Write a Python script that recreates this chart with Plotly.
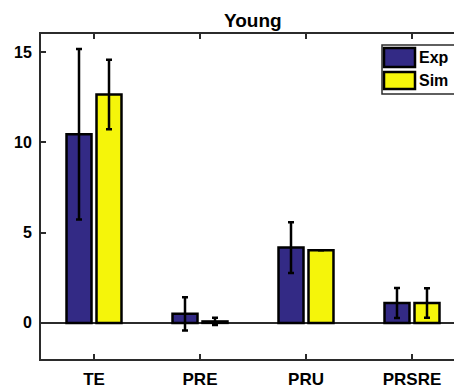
import plotly.graph_objects as go

# Measurements per condition
categories = ["TE", "PRE", "PRU", "PRSRE"]
exp_values = [10.45, 0.5, 4.17, 1.1]
exp_errors = [4.72, 0.92, 1.4, 0.83]
sim_values = [12.65, 0.08, 4.03, 1.1]
sim_errors = [1.93, 0.2, 0.0, 0.82]
y_ticks = [0, 5, 10, 15]

EXP_COLOR = "#332a85"
SIM_COLOR = "#f5f50a"
AXIS_COLOR = "#2b2b2b"
FONT = "Liberation Sans"

W, H = 454, 388
L, R, T, B = 41, 0, 34, 29
plot_w = W - L - R
plot_h = H - T - B

xpos = list(range(1, len(categories) + 1))

fig = go.Figure()
for name, vals, errs, color in [
    ("Exp", exp_values, exp_errors, EXP_COLOR),
    ("Sim", sim_values, sim_errors, SIM_COLOR),
]:
    fig.add_trace(go.Bar(
        x=xpos, y=vals, name=name,
        marker=dict(color=color, line=dict(color="black", width=2.5)),
        error_y=dict(type="data", array=errs, visible=True,
                     color="black", thickness=2.5, width=3),
        showlegend=False,
    ))


def px_x(p):
    return (p - L) / plot_w


def px_y(p):
    return (H - B - p) / plot_h


# Legend box drawn with shapes so the swatches are wide patches;
# the box runs off the right edge of the figure.
bx0, bx1, by0, by1 = px_x(382), 1.5, px_y(94), px_y(45)
shapes = [
    dict(type="rect", xref="paper", yref="paper",
         x0=bx0, x1=bx1, y0=by0, y1=by1,
         line=dict(width=0), fillcolor="white", layer="above"),
    dict(type="path", xref="paper", yref="paper",
         path=f"M {bx1},{by1} L {bx0},{by1} L {bx0},{by0} L {bx1},{by0}",
         line=dict(color=AXIS_COLOR, width=1.5), layer="above"),
]
annotations = []
for name, color, top, bot in [("Exp", EXP_COLOR, 48, 67), ("Sim", SIM_COLOR, 72, 89)]:
    shapes.append(dict(type="rect", xref="paper", yref="paper",
                       x0=px_x(384), x1=px_x(415), y0=px_y(bot), y1=px_y(top),
                       line=dict(color="black", width=2.5), fillcolor=color, layer="above"))
    annotations.append(dict(xref="paper", yref="paper", x=px_x(416.5),
                            y=px_y((top + bot) / 2), text=name, showarrow=False,
                            xanchor="left", yanchor="middle",
                            font=dict(family=FONT, size=16, color="black", weight="bold")))

annotations.append(dict(xref="paper", yref="paper", x=px_x(252.5), y=px_y(20),
                        text="Young", showarrow=False, xanchor="center", yanchor="middle",
                        font=dict(family=FONT, size=19, color="black", weight="bold")))

fig.update_layout(
    width=W, height=H, autosize=False,
    margin=dict(l=L, r=R, t=T, b=B, pad=0),
    paper_bgcolor="white", plot_bgcolor="white",
    barmode="group", bargap=0.434, bargroupgap=0.167,
    shapes=shapes, annotations=annotations,
    font=dict(family=FONT, color="black"),
)
fig.update_xaxes(
    range=[0.5, 0.5 + plot_w / 106.0],
    tickvals=xpos, ticktext=categories,
    ticks="inside", ticklen=5, tickwidth=1.5, tickcolor=AXIS_COLOR,
    showline=True, linecolor=AXIS_COLOR, linewidth=2, mirror="ticks",
    showgrid=False, zeroline=False,
    tickfont=dict(family=FONT, size=17, color="black", weight="bold"),
    ticklabelstandoff=4,
)
fig.update_yaxes(
    range=[-2, 16], tickvals=y_ticks,
    ticks="inside", ticklen=5, tickwidth=1.5, tickcolor=AXIS_COLOR,
    showline=True, linecolor=AXIS_COLOR, linewidth=2, mirror=False,
    showgrid=False, zeroline=True, zerolinecolor=AXIS_COLOR, zerolinewidth=2,
    tickfont=dict(family=FONT, size=16, color="black", weight="bold"),
    ticklabelstandoff=4,
)

fig.write_html("out.html")
